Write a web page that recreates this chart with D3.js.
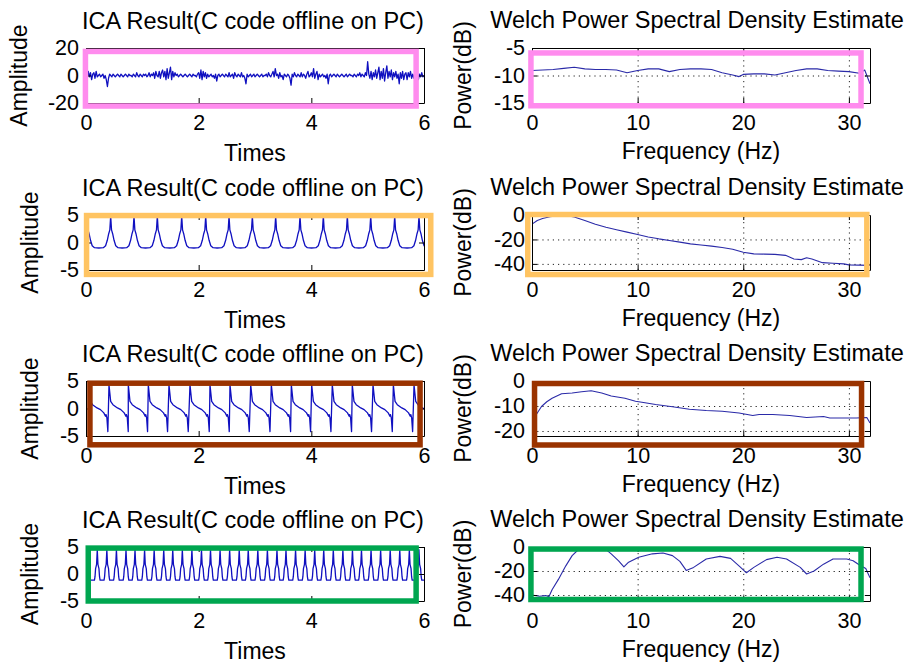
<!DOCTYPE html>
<html><head><meta charset="utf-8">
<script src="https://cdn.jsdelivr.net/npm/d3@7"></script>
<style>
body{margin:0;background:#fff}
text{font-family:"Liberation Sans",Arial,Helvetica,sans-serif;fill:#000}
</style>
</head><body>
<svg id="c" width="909" height="669"></svg>
<script>
// ---------------- DATA ----------------
const leftTitle = "ICA Result(C code offline on PC)";
const rightTitle = "Welch Power Spectral Density Estimate";
const leftXLabel = "Times", leftYLabel = "Amplitude";
const rightXLabel = "Frequency (Hz)", rightYLabel = "Power(dB)";

const timeTicks = [0, 2, 4, 6];
const freqTicks = [0, 10, 20, 30];

// Panel 1 (noise), one sample every 0.02 s
const ica1Step = 0.02;
const ica1Values = [
 1,-2,3,-1,2,-3,1,2,-2,3,
 -1,0,1,-1,0,1,-2,0,-3,-8,
 -2,1,0,-1,1,0,-1,0,1,0,
 -1,1,0,-1,0,1,0,-1,1,0,
 0,-1,1,0,-1,2,0,-1,1,0,
 -1,1,0,1,-1,0,2,-1,1,0,
 2,-2,3,0,-1,3,-2,2,4,-1,
 3,-3,5,-2,2,6,-3,3,-1,2,
 0,1,-1,0,1,0,-1,0,1,0,
 -1,0,1,0,-1,1,0,0,-1,1,
 2,-2,4,-3,3,-1,2,-2,1,-1,
 0,1,-1,0,-2,1,-4,0,1,-1,
 0,1,0,-1,1,0,-1,2,-1,0,
 1,-2,2,0,-1,1,0,-1,2,-1,
 0,-2,-6,1,-1,0,1,-1,0,1,
 -1,0,1,0,-1,0,1,-1,0,0,
 1,-1,2,0,-1,1,3,-1,5,0,
 1,-2,2,-1,0,-3,1,0,-1,1,
 0,-2,-7,1,-1,2,0,-1,1,0,
 -1,2,-1,1,0,-2,1,3,-1,0,
 2,-1,5,-2,1,3,-3,1,-1,0,
 1,-1,0,-2,1,-6,0,1,-1,0,
 1,0,-1,1,0,-1,0,1,0,-1,
 0,1,-1,0,1,0,0,-1,1,0,
 -1,1,0,2,-1,1,0,-1,2,0,
 10,1,-2,3,-3,2,-1,4,-2,2,
 6,-3,3,-2,5,-4,2,7,-2,3,
 -1,4,-3,2,-1,3,-2,1,-6,2,
 -2,3,-3,1,2,-3,2,-1,3,-2,
 1,-2,2,-1,3,-3,1,-1,2,-1,
 0];

// Panel 2: peak times (s) and one cycle's shape [offset s, amplitude]
const ica2Peaks = [0.02,0.438,0.852,1.266,1.699,2.125,2.539,2.953,3.367,3.799,4.213,4.639,5.054,5.480,5.911,6.33];
const ica2Shape = [[-0.21,-1.0],[-0.13,-0.95],[-0.09,-0.6],[-0.06,0.4],[-0.035,1.6],[-0.015,2.3],[0,4.8],[0.015,2.3],[0.035,1.6],[0.06,0.4],[0.09,-0.6],[0.13,-0.95]];

// Panel 3
const ica3Peaks = [0.046,0.408,0.751,1.106,1.473,1.846,2.201,2.556,2.924,3.29,3.645,4.006,4.372,4.727,5.095,5.456,5.823];
const ica3Shape = [[0,4.3],[0.03,1.3],[0.07,0.7],[0.15,0.1],[0.21,-0.2],[0.27,-0.8],[0.30,-1.4],[0.31,-1.1],[0.325,-1.7],[0.342,-4.2]];

// Panel 4
const ica4Peaks = [0.03,0.20,0.37,0.54,0.71,0.87,1.04,1.21,1.38,1.54,1.71,1.88,2.05,2.21,2.38,2.55,2.72,2.88,3.05,3.22,3.39,3.55,3.72,3.89,4.06,4.22,4.39,4.56,4.73,4.89,5.06,5.23,5.40,5.57,5.74,5.91,6.08];
const ica4Shape = [[-0.084,-1.15],[-0.05,-1.15],[-0.04,-0.5],[-0.03,1.0],[-0.012,1.8],[0,4.5],[0.012,1.8],[0.03,1.0],[0.04,-0.5],[0.05,-1.15]];

// Welch PSD estimates [Hz, dB]
const psd1 = [[0,-9.1],[1,-9.0],[2,-8.9],[3,-8.7],[4,-8.5],[5,-8.8],[6,-8.9],[7,-8.9],[8,-9.0],[9,-9.5],[10,-9.1],[11,-8.8],[12,-8.8],[13,-9.3],[14,-8.9],[15,-8.8],[16,-8.8],[17,-8.9],[18,-9.5],[19,-9.9],[19.6,-10.2],[20,-9.8],[21,-9.7],[22,-9.7],[23,-9.9],[24,-9.5],[25,-9.1],[26,-8.8],[27,-8.8],[28,-9.1],[29,-9.2],[30,-9.3],[31,-9.6],[31.5,-9.0],[32,-11.5]];
const psd2 = [[0,-7.5],[0.5,-4.5],[1,-2.8],[1.7,-1.4],[2.5,-0.6],[3.3,-0.5],[4,-1.6],[5,-4.5],[6,-7.5],[7,-10],[8,-12],[9,-14],[10,-16],[11,-18],[12,-19.5],[13,-20.8],[14,-22.2],[15,-23.6],[16,-24.5],[17,-25.5],[18,-26.6],[19,-28],[20,-30.5],[21,-31.8],[22,-32],[23,-32.2],[24,-33],[24.8,-36],[25.5,-36.5],[26,-35],[26.5,-36],[27.5,-39],[28.5,-39.5],[29.5,-40],[30,-40.8],[31,-41],[32,-41.2]];
const psd3 = [[0,-16],[0.3,-14.1],[0.9,-10.2],[1.4,-8.3],[1.9,-6.9],[2.8,-5.1],[3.8,-4.8],[4.7,-4.3],[5.6,-3.9],[6.6,-4.8],[7.5,-6.0],[8.8,-6.9],[9.8,-8.1],[10.7,-8.7],[11.7,-9.4],[13.3,-10.3],[14.9,-11.3],[16.5,-11.8],[18,-12.1],[19.6,-12.8],[20.9,-13.8],[21.5,-13.4],[22.8,-13.4],[24.4,-13.8],[26,-14.6],[27.6,-14.2],[28.2,-14.8],[30.7,-14.8],[31.7,-14.6],[32,-16.8]];
const psd4 = [[0,-40],[0.7,-41],[1.3,-40.5],[1.6,-41.5],[1.9,-35.6],[2.5,-27],[3.2,-15.7],[3.8,-7.2],[4.4,-2.1],[5.2,0],[6.2,0],[6.9,-1.4],[7.5,-5.7],[8.2,-11.5],[8.7,-16.5],[9.1,-13],[10.1,-8.6],[11.4,-5.7],[12.4,-5.0],[13.3,-7.2],[14.0,-12],[14.6,-19.5],[15.3,-17],[16.5,-10],[17.8,-7.8],[18.8,-9.5],[19.7,-16.5],[20.3,-21.5],[21,-17],[22.2,-10.5],[23.2,-8.6],[24.1,-10],[25.4,-17],[26,-22.5],[26.7,-20],[27.6,-14.3],[28.5,-10],[29.8,-10],[30.4,-11.4],[31,-15],[31.6,-18],[32,-25.7]];

const leftYDomains = [[-20,20],[-5,5],[-5,5],[-5,5]];
const leftYTicks = [[-20,0,20],[-5,0,5],[-5,0,5],[-5,0,5]];
const rightYDomains = [[-15,-5],[-45,0],[-22,0],[-45,0]];
const rightYTicks = [[-15,-10,-5],[-40,-20,0],[-20,-10,0],[-40,-20,0]];

// highlight boxes in data units [x0, x1, yTop, yBottom]
const leftBoxes = [[-0.01,5.86,17.5,-22.2],[0.01,6.12,4.9,-5.8],[0.07,5.93,4.6,-6.6],[0.04,5.86,4.8,-5.0]];
const rightBoxes = [[-0.1,31.15,-5.9,-15.5],[-0.4,31.7,0.4,-48.7],[0.24,31.2,-1.0,-25.6],[-0.1,31.15,-1.7,-43.75]];
const boxColors = ["#ff8cee","#ffc462","#9a3300","#00a650"];

// ---------------- BUILD SERIES ----------------
function fromCycles(peaks, shape){
  return peaks.flatMap(p => shape.map(s => [p + s[0], s[1]])).sort((a,b)=>a[0]-b[0]);
}
const leftSeries = [
  ica1Values.map((v,i)=>[i*ica1Step, v]),
  fromCycles(ica2Peaks, ica2Shape),
  fromCycles(ica3Peaks, ica3Shape),
  fromCycles(ica4Peaks, ica4Shape)
];
const rightSeries = [psd1, psd2, psd3, psd4];

// ---------------- LAYOUT ----------------
const svg = d3.select("#c");
const leftRange = [86, 424], rightRange = [532, 870];
const rowRanges = [[48,103],[215,270],[381,436],[547,601]];
const tickFont = 21.5, labelFont = 23;
const fmt = d => String(d);
let clipId = 0;

function panel(o){
  const [x0,x1] = o.xRange, [y0,y1] = o.yRange;
  const x = d3.scaleLinear().domain(o.xDomain).range(o.xRange);
  const y = d3.scaleLinear().domain(o.yDomain).range([y1,y0]);
  const g = svg.append("g");
  const id = "clip" + (clipId++);
  svg.append("clipPath").attr("id",id).append("rect")
    .attr("x",x0).attr("y",y0).attr("width",x1-x0).attr("height",y1-y0);

  if (o.grid){
    const gg = g.append("g");
    gg.append("g").attr("transform",`translate(0,${y1})`)
      .call(d3.axisBottom(x).tickValues(o.xTicks.filter(v=>v>o.xDomain[0])).tickSize(-(y1-y0)).tickFormat(""))
      .call(s=>s.select(".domain").remove());
    gg.append("g").attr("transform",`translate(${x0},0)`)
      .call(d3.axisLeft(y).tickValues(o.yTicks.filter(v=>v>o.yDomain[0] && v<o.yDomain[1])).tickSize(-(x1-x0)).tickFormat(""))
      .call(s=>s.select(".domain").remove());
    gg.selectAll("line").attr("stroke","#222").attr("stroke-width",1).attr("stroke-dasharray","1.2,4");
  }

  g.append("path").datum(o.data)
    .attr("clip-path",`url(#${id})`)
    .attr("fill","none").attr("stroke",o.color).attr("stroke-width",o.lineWidth)
    .attr("stroke-linejoin","round")
    .attr("d", d3.line().x(d=>x(d[0])).y(d=>y(d[1])));

  const styleAxis = s => {
    s.select(".domain").attr("stroke","#000");
    s.selectAll(".tick line").attr("stroke","#000");
    s.selectAll("text").attr("font-size",tickFont).attr("font-family",'"Liberation Sans",Arial,sans-serif').attr("fill","#000");
  };
  g.append("g").attr("transform",`translate(0,${y1})`)
    .call(d3.axisBottom(x).tickValues(o.xTicks).tickFormat(fmt).tickSizeInner(-5).tickSizeOuter(0).tickPadding(12))
    .call(styleAxis);
  g.append("g").attr("transform",`translate(0,${y0})`)
    .call(d3.axisTop(x).tickValues(o.xTicks).tickSizeInner(-5).tickSizeOuter(0).tickFormat(""))
    .call(styleAxis);
  g.append("g").attr("transform",`translate(${x0},0)`)
    .call(d3.axisLeft(y).tickValues(o.yTicks).tickFormat(fmt).tickSizeInner(-5).tickSizeOuter(0).tickPadding(7))
    .call(styleAxis);
  g.append("g").attr("transform",`translate(${x1},0)`)
    .call(d3.axisRight(y).tickValues(o.yTicks).tickSizeInner(-5).tickSizeOuter(0).tickFormat(""))
    .call(styleAxis);

  g.append("text").attr("x",(x0+x1)/2 + o.titleShift).attr("y",y0 - o.titleGap)
    .attr("text-anchor","middle").attr("font-size",o.titleFont).text(o.title);
  g.append("text").attr("x",(x0+x1)/2).attr("y",y1 + o.xLabelGap)
    .attr("text-anchor","middle").attr("font-size",labelFont).text(o.xLabel);
  g.append("text").attr("transform",`translate(${x0 - o.yLabelGap},${(y0+y1)/2}) rotate(-90)`)
    .attr("text-anchor","middle").attr("font-size",labelFont).text(o.yLabel);

  const b = o.box;
  g.append("rect")
    .attr("x",x(b[0])).attr("y",y(b[2]))
    .attr("width",x(b[1])-x(b[0])).attr("height",y(b[3])-y(b[2]))
    .attr("fill","none").attr("stroke",o.boxColor).attr("stroke-width",5.5);
}

for (let r=0; r<4; r++){
  panel({
    xRange:leftRange, yRange:rowRanges[r], xDomain:[0,6], yDomain:leftYDomains[r],
    xTicks:timeTicks, yTicks:leftYTicks[r], grid:false, data:leftSeries[r], color:"#1010c0",
    lineWidth: 1.3,
    title:leftTitle, titleFont:23.5, xLabel:leftXLabel, yLabel:leftYLabel, titleGap:19, titleShift:-2, xLabelGap:58,
    yLabelGap: r===0 ? 59 : 48, box:leftBoxes[r], boxColor:boxColors[r]
  });
  panel({
    xRange:rightRange, yRange:rowRanges[r], xDomain:[0,32], yDomain:rightYDomains[r],
    xTicks:freqTicks, yTicks:rightYTicks[r], grid:true, data:rightSeries[r], color:"#2a2aa8",
    lineWidth: 1.1,
    title:rightTitle, titleFont:23.5, xLabel:rightXLabel, yLabel:rightYLabel, titleGap:20, titleShift:-4, xLabelGap:56,
    yLabelGap:61, box:rightBoxes[r], boxColor:boxColors[r]
  });
}
</script>
</body></html>
